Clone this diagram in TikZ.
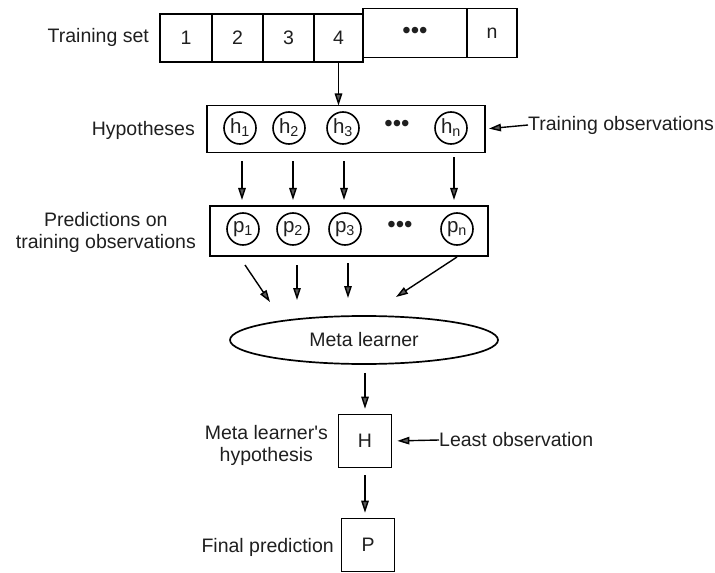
\documentclass[tikz,border=0pt]{standalone}
\usepackage{fontspec}
\setmainfont{Liberation Sans}
\usetikzlibrary{arrows.meta,shapes.geometric}
\begin{document}
\begin{tikzpicture}[x=1bp,y=-1bp,
  every node/.style={font=\fontsize{19.5bp}{22bp}\selectfont, text=black!88},
  cell/.style={draw, line width=1.7bp, rectangle, inner sep=0pt, outer sep=0pt, minimum height=48bp},
  panel/.style={draw, line width=1.8bp, rectangle, inner sep=0pt, outer sep=0pt},
  ball/.style={draw, line width=1.6bp, circle, inner sep=0pt, minimum size=32bp, font=\fontsize{20.5bp}{22bp}\selectfont},
  sq/.style={draw, line width=1.7bp, rectangle, inner sep=0pt, minimum size=53bp},
  arr/.style={line width=1.4bp, -{Triangle[length=12bp,width=7.5bp,fill=black!65]}},
  lbl/.style={align=center, inner sep=0pt},
  dots/.style={inner sep=0pt, font=\fontsize{24bp}{24bp}\selectfont}]
\useasboundingbox (0,0) rectangle (715,573);

% training set strip
\node[lbl, anchor=east] (tslabel) at (149,37) {Training set};
\node[cell, minimum width=52bp] (c1) at (186,38) {1};
\node[cell, minimum width=51bp] (c2) at (237.5,38) {2};
\node[cell, minimum width=51bp] (c3) at (288.5,38) {3};
\node[cell, minimum width=49bp] (c4) at (338.5,38) {4};
\node[cell, minimum width=104bp, minimum height=49bp, dots] (c5) at (415,33) {•••};
\node[cell, minimum width=50bp, minimum height=49bp] (c6) at (492,33) {n};

% hypotheses panel
\node[panel, minimum width=278bp, minimum height=47bp] (hbox) at (346,129) {};
\node[lbl, anchor=east] (hlabel) at (195,130) {Hypotheses};
\node[ball] (h1) at (240,128) {h\textsubscript{1}};
\node[ball] (h2) at (289,128) {h\textsubscript{2}};
\node[ball] (h3) at (343,128) {h\textsubscript{3}};
\node[dots] (hd) at (397,126) {•••};
\node[ball] (hn) at (451,128) {h\textsubscript{n}};
\node[lbl, anchor=west] (tobs) at (528,125) {Training observations};

% predictions panel
\node[panel, minimum width=278bp, minimum height=50bp] (pbox) at (349,231) {};
\node[lbl, anchor=east] (plabel) at (196,232) {Predictions on\\training observations};
\node[ball] (p1) at (243,229) {p\textsubscript{1}};
\node[ball] (p2) at (293,229) {p\textsubscript{2}};
\node[ball] (p3) at (345,229) {p\textsubscript{3}};
\node[dots] (pd) at (400,227) {•••};
\node[ball] (pn) at (457,229) {p\textsubscript{n}};

% meta learner
\node[draw, line width=1.7bp, ellipse, minimum width=268bp, minimum height=48bp, inner sep=0pt] (meta) at (364,340) {Meta learner};
\node[sq] (H) at (365,441) {H};
\node[lbl, anchor=east] (hyp) at (328,445) {Meta learner\textquotesingle s\\hypothesis};
\node[lbl, anchor=west] (least) at (439,440) {Least observation};
\node[sq] (P) at (368,545) {P};
\node[lbl, anchor=east] (fin) at (334,547) {Final prediction};

% free ends of the converging arrows
\coordinate (m1) at (270,302);
\coordinate (m2) at (297,300);
\coordinate (m3) at (348,298);
\coordinate (m4) at (396,297);
\coordinate (s1) at (245,265);
\coordinate (s4) at (457,257);

% connectors
\draw[arr] (c4.south) -- (c4.south |- hbox.north);
\draw[arr, shorten >=4bp] (tobs.west) -- (hbox.east);
\draw[arr, shorten <=9bp, shorten >=6bp] (hbox.south -| 242,0) -- (pbox.north -| 242,0);
\draw[arr, shorten <=9bp, shorten >=6bp] (hbox.south -| 293,0) -- (pbox.north -| 293,0);
\draw[arr, shorten <=9bp, shorten >=6bp] (hbox.south -| 344,0) -- (pbox.north -| 344,0);
\draw[arr, shorten <=5bp, shorten >=6bp] (hbox.south -| 454,0) -- (pbox.north -| 454,0);
\draw[arr] (s1) -- (m1);
\draw[arr, shorten <=9bp] (pbox.south -| m2) -- (m2);
\draw[arr, shorten <=7bp] (pbox.south -| m3) -- (m3);
\draw[arr] (s4) -- (m4);
\draw[arr, shorten <=8bp, shorten >=5bp] (meta.south -| H) -- (H.north);
\draw[arr, shorten >=5bp] (least.west) -- (H.east);
\draw[arr, shorten <=7bp, shorten >=5bp] (H.south) -- (H.south |- P.north);
\end{tikzpicture}
\end{document}
